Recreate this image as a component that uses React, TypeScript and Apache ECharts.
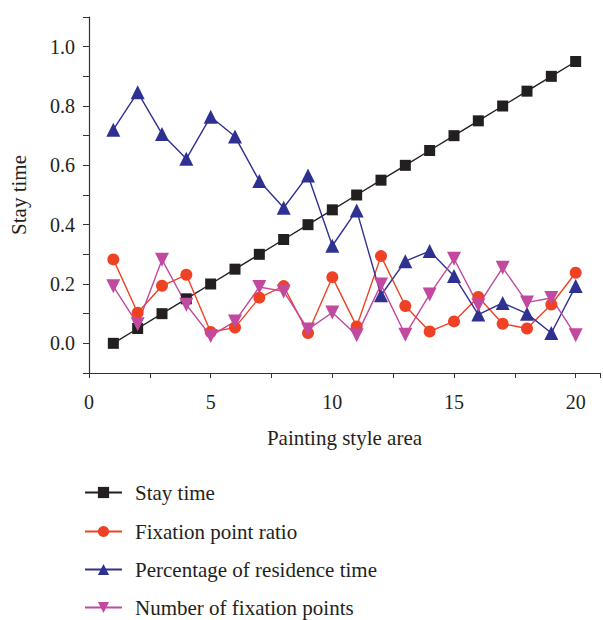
import React, { useEffect, useRef } from "react";
import * as echarts from "echarts";

const xValues = [1, 2, 3, 4, 5, 6, 7, 8, 9, 10, 11, 12, 13, 14, 15, 16, 17, 18, 19, 20];
const stayTime = [0, 0.05, 0.1, 0.15, 0.2, 0.25, 0.3, 0.35, 0.4, 0.45, 0.5, 0.55, 0.6, 0.65, 0.7, 0.75, 0.8, 0.85, 0.9, 0.95];
const fixationRatio = [0.283, 0.103, 0.194, 0.231, 0.038, 0.053, 0.154, 0.193, 0.035, 0.223, 0.057, 0.294, 0.126, 0.04, 0.074, 0.156, 0.066, 0.05, 0.131, 0.238];
const residencePct = [0.72, 0.846, 0.706, 0.622, 0.764, 0.697, 0.547, 0.457, 0.566, 0.329, 0.448, 0.162, 0.277, 0.311, 0.227, 0.097, 0.136, 0.1, 0.035, 0.193];
const fixationCount = [0.192, 0.064, 0.282, 0.13, 0.025, 0.074, 0.19, 0.175, 0.047, 0.104, 0.027, 0.198, 0.029, 0.165, 0.285, 0.128, 0.255, 0.138, 0.153, 0.027];

const seriesNames = ["Stay time", "Fixation point ratio", "Percentage of residence time", "Number of fixation points"];
const xLabels = [0, 5, 10, 15, 20];
const yLabels = [0, 0.2, 0.4, 0.6, 0.8, 1.0];

const FONT = "'Liberation Serif', 'DejaVu Serif', serif";
const TEXT = "#231f20";

export default function App() {
  const ref = useRef<HTMLDivElement>(null);
  useEffect(() => {
    if (!ref.current) return;
    const chart = echarts.init(ref.current, undefined, { renderer: "svg" });
    const pairs = (ys: number[]) => xValues.map((x, i) => [x, ys[i]]);
    const mk = (name: string, ys: number[], color: string, symbol: string, size: number, rotate = 0) => ({
      name,
      type: "line",
      data: pairs(ys),
      symbol,
      symbolSize: size,
      symbolRotate: rotate,
      showAllSymbol: true,
      lineStyle: { color, width: 1.4 },
      itemStyle: { color },
      z: 3,
    });
    const legendTops = [482, 521, 559, 597];
    chart.setOption({
      animation: false,
      backgroundColor: "#ffffff",
      textStyle: { fontFamily: FONT },
      grid: { left: 86, top: 17, width: 517, height: 356 },
      legend: seriesNames.map((n, i) => ({
        orient: "vertical",
        left: 84,
        top: legendTops[i],
        padding: 0,
        itemWidth: 37,
        itemHeight: 14,
        textStyle: { fontFamily: FONT, fontSize: 21, color: TEXT, padding: [0, 0, 0, 8] },
        data: [n],
      })),
      xAxis: {
        type: "value",
        min: 0,
        max: 21,
        interval: 2.5,
        name: "Painting style area",
        nameLocation: "middle",
        nameGap: 54,
        nameTextStyle: { fontFamily: FONT, fontSize: 21, color: TEXT },
        axisLine: { show: true, onZero: false, lineStyle: { color: "#333", width: 1.2 } },
        axisTick: { show: true, length: 5, lineStyle: { color: "#333" } },
        axisLabel: {
          margin: 19,
          fontFamily: FONT,
          fontSize: 20,
          color: TEXT,
          formatter: (v: number) => (xLabels.some((l) => Math.abs(l - v) < 1e-6) ? String(v) : ""),
        },
        splitLine: { show: false },
      },
      yAxis: {
        type: "value",
        min: -0.1,
        max: 1.1,
        interval: 0.1,
        name: "Stay time",
        nameLocation: "middle",
        nameRotate: 90,
        nameGap: 60,
        nameTextStyle: { fontFamily: FONT, fontSize: 21, color: TEXT },
        axisLine: { show: true, onZero: false, lineStyle: { color: "#333", width: 1.2 } },
        axisTick: { show: true, length: 6, lineStyle: { color: "#333" } },
        axisLabel: {
          margin: 14,
          fontFamily: FONT,
          fontSize: 20,
          color: TEXT,
          formatter: (v: number) => {
            const m = yLabels.find((l) => Math.abs(l - v) < 1e-6);
            return m === undefined ? "" : m.toFixed(1);
          },
        },
        splitLine: { show: false },
      },
      series: [
        mk(seriesNames[0], stayTime, "#231f20", "rect", 11),
        mk(seriesNames[1], fixationRatio, "#ef4123", "circle", 12),
        mk(seriesNames[2], residencePct, "#2e3192", "triangle", 14),
        mk(seriesNames[3], fixationCount, "#c1499f", "triangle", 14, 180),
      ],
    });
    return () => chart.dispose();
  }, []);
  return <div ref={ref} style={{ position: "absolute", left: 0, top: 0, width: 603, height: 620 }} />;
}
